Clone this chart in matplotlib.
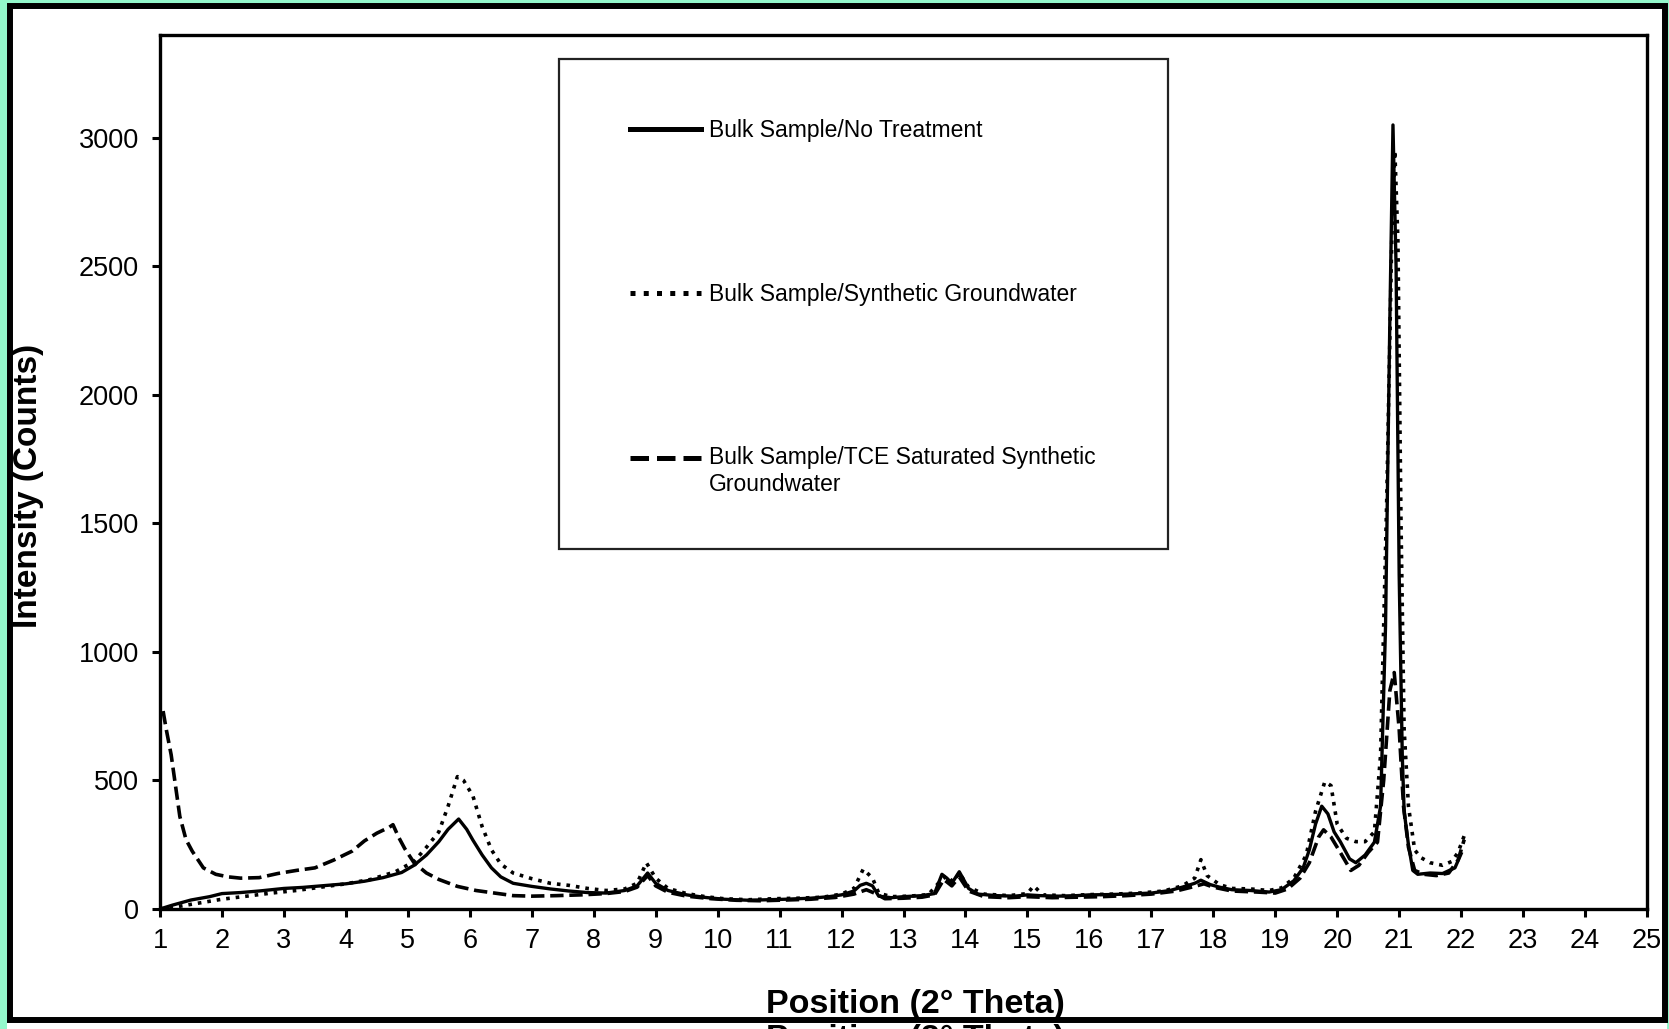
import matplotlib
matplotlib.use("Agg")
import matplotlib.pyplot as plt
from matplotlib.patches import Rectangle

plt.rcParams['font.family'] = ['Liberation Sans', 'DejaVu Sans']

# XRD scans, position in degrees 2-theta, intensity in counts
x_none = [1.0, 1.2, 1.5, 1.8, 2.0, 2.3, 2.6, 3.0, 3.3, 3.6, 4.0, 4.3, 4.6, 4.9, 5.1,
          5.3, 5.5, 5.65, 5.82, 5.95, 6.05, 6.2, 6.35, 6.5, 6.7, 7.0, 7.3, 7.6, 7.9,
          8.2, 8.5, 8.7, 8.87, 9.0, 9.2, 9.5, 9.8, 10.1, 10.5, 10.8, 11.1, 11.5, 11.8,
          12.0, 12.2, 12.3, 12.4, 12.5, 12.6, 12.8, 13.0, 13.3, 13.5, 13.62, 13.7,
          13.78, 13.9, 14.05, 14.2, 14.5, 14.8, 15.0, 15.2, 15.5, 15.8, 16.0, 16.3,
          16.6, 17.0, 17.3, 17.5, 17.7, 17.8, 17.95, 18.1, 18.3, 18.6, 18.9, 19.1,
          19.3, 19.45, 19.55, 19.65, 19.75, 19.85, 19.95, 20.05, 20.2, 20.3, 20.45,
          20.6, 20.7, 20.78, 20.85, 20.9, 20.95, 21.0, 21.05, 21.08, 21.15, 21.22,
          21.3, 21.5, 21.7, 21.9, 22.0]
y_none = [0, 15, 35, 48, 60, 64, 70, 80, 84, 90, 98, 108, 122, 142, 170,
          210, 262, 310, 350, 310, 268, 210, 160, 125, 100, 88, 78, 70, 64,
          62, 72, 90, 140, 100, 72, 55, 45, 38, 34, 36, 38, 42, 48,
          55, 70, 92, 100, 90, 50, 44, 48, 52, 60, 135, 120,
          100, 145, 80, 58, 52, 50, 55, 52, 50, 52, 55, 56,
          58, 62, 72, 85, 100, 112, 95, 85, 75, 72, 66, 75,
          110, 160, 230, 330, 400, 370, 300, 262, 195, 180, 210,
          260, 400, 1100, 2300, 3050, 2500, 1300, 600, 380, 250, 150,
          135, 140, 138, 160, 215]

x_gw = [1.0, 1.3, 1.6, 2.0, 2.4, 2.8, 3.2, 3.6, 4.0, 4.4, 4.8, 5.1, 5.3, 5.5, 5.65,
        5.8, 5.9, 6.05, 6.2, 6.35, 6.5, 6.7, 7.0, 7.3, 7.6, 7.9, 8.2, 8.5, 8.7, 8.85,
        9.0, 9.2, 9.5, 9.8, 10.1, 10.5, 10.9, 11.3, 11.7, 12.0, 12.2, 12.35, 12.5,
        12.6, 12.8, 13.1, 13.4, 13.6, 13.7, 13.8, 13.9, 14.05, 14.3, 14.7, 15.0,
        15.1, 15.25, 15.6, 16.0, 16.4, 16.8, 17.2, 17.5, 17.7, 17.8, 17.9, 18.1,
        18.3, 18.6, 18.9, 19.1, 19.3, 19.5, 19.65, 19.8, 19.9, 20.0, 20.15, 20.3,
        20.45, 20.6, 20.7, 20.8, 20.88, 20.93, 20.98, 21.03, 21.08, 21.15, 21.25,
        21.35, 21.5, 21.7, 21.85, 21.95, 22.05]
y_gw = [0, 10, 22, 38, 50, 62, 72, 85, 98, 115, 145, 185, 240, 300, 400,
        515, 500, 440, 320, 230, 175, 140, 118, 100, 92, 80, 72, 78, 100, 180,
        120, 80, 60, 48, 40, 36, 40, 42, 46, 58, 80, 155, 120,
        62, 48, 50, 56, 110, 130, 105, 140, 85, 58, 52, 60,
        90, 55, 52, 56, 58, 62, 70, 90, 120, 192, 130, 95,
        80, 78, 72, 82, 120, 210, 380, 495, 480, 330, 275, 262,
        262, 300, 600, 1600, 2600, 2950, 2600, 1500, 700, 400, 230,
        200, 180, 170, 185, 220, 285]

x_tce = [1.05, 1.1, 1.18, 1.25, 1.32, 1.42, 1.52, 1.7, 1.9, 2.1, 2.3, 2.6, 2.9, 3.2,
         3.5, 3.8, 4.1, 4.3, 4.5, 4.7, 4.76, 4.85, 4.95, 5.1, 5.3, 5.5, 5.8, 6.1, 6.4,
         6.7, 7.0, 7.4, 7.8, 8.2, 8.5, 8.7, 8.87, 9.0, 9.2, 9.5, 9.9, 10.3, 10.7,
         11.1, 11.5, 11.9, 12.2, 12.4, 12.55, 12.7, 13.0, 13.3, 13.5, 13.65, 13.78,
         13.9, 14.05, 14.3, 14.7, 15.0, 15.4, 15.8, 16.2, 16.6, 17.0, 17.4, 17.7,
         17.85, 18.0, 18.3, 18.7, 19.0, 19.2, 19.4, 19.55, 19.7, 19.78, 19.9, 20.05,
         20.22, 20.35, 20.5, 20.65, 20.75, 20.85, 20.92, 21.0, 21.07, 21.15, 21.25,
         21.4, 21.6, 21.8, 21.95, 22.05]
y_tce = [770, 700, 600, 480, 360, 270, 225, 160, 135, 125, 120, 122, 138, 150,
         160, 190, 225, 265, 295, 318, 328, 280, 235, 180, 140, 115, 88, 72, 62,
         52, 50, 52, 55, 60, 68, 85, 130, 90, 65, 50, 40, 34, 32,
         35, 38, 45, 58, 75, 60, 40, 42, 46, 55, 115, 90,
         125, 70, 48, 44, 48, 44, 46, 48, 52, 58, 70, 88,
         98, 85, 70, 66, 62, 78, 120, 180, 280, 308, 280, 220,
         150, 170, 220, 260, 500, 850, 920, 700, 400, 240, 150,
         135, 130, 140, 190, 270]

labels = ["Bulk Sample/No Treatment",
          "Bulk Sample/Synthetic Groundwater",
          "Bulk Sample/TCE Saturated Synthetic\nGroundwater"]

W, H = 1669, 1029
fig = plt.figure(figsize=(W / 100, H / 100), dpi=100, facecolor="#93f7cb")

# white page with a heavy black frame
fig.patches.append(Rectangle((7 / W, 0), 1660 / W, 1 - 3 / H, transform=fig.transFigure,
                             facecolor="white", edgecolor="none", zorder=-5))
fig.patches.append(Rectangle((10 / W, (H - 1020) / H), 1654.5 / W, 1014 / H,
                             transform=fig.transFigure, facecolor="none",
                             edgecolor="black", lw=4.3, zorder=10))

ax = fig.add_axes([160 / W, (H - 909) / H, 1487 / W, 874 / H])
ax.plot(x_none, y_none, color="black", ls="-", lw=2.4, label=labels[0])
ax.plot(x_gw, y_gw, color="black", ls=":", lw=2.6, label=labels[1])
ax.plot(x_tce, y_tce, color="black", ls="--", lw=2.6, label=labels[2])

ax.set_xlim(1, 25)
ax.set_ylim(0, 3400)
ax.set_xticks(range(1, 26))
ax.set_yticks(range(0, 3001, 500))
for s in ax.spines.values():
    s.set_linewidth(2.4)
ax.tick_params(axis="both", direction="out", length=6, width=2.2, labelsize=19.5)
ax.tick_params(axis="x", pad=8)
ax.tick_params(axis="y", pad=9)

ax.set_xlabel("Position (2° Theta)", fontsize=24.5, fontweight="bold")
ax.xaxis.set_label_coords(0.5077, -0.092)
ax.set_ylabel("Intensity (Counts)", fontsize=24, fontweight="bold")
ax.yaxis.set_label_coords(-0.078, 0.484)

# the same axis title printed again just under the frame
fig.text(915 / W, (H - 1048) / H, "Position (2° Theta)", fontsize=24.5,
         fontweight="bold", ha="center", va="baseline", zorder=5)

# legend box
ax.add_patch(Rectangle(((559 - 160) / 1487, (909 - 549) / 874), 609 / 1487, 490 / 874,
                       transform=ax.transAxes, facecolor="white", edgecolor="#222222",
                       lw=1.6, zorder=4))
leg = ax.legend(loc="upper left", bbox_to_anchor=((630 - 160) / 1487, (909 - 119.5) / 874),
                frameon=False, borderpad=0, borderaxespad=0, fontsize=16.5,
                handlelength=3.1, handletextpad=0.35, labelspacing=6.13)
leg.set_zorder(6)
for h in leg.legend_handles:
    h.set_linewidth(3.6)
# put the dashed key level with the first line of its two-line label
y3 = leg.legend_handles[2].get_ydata()
leg.legend_handles[2].set_ydata([v + 9.9 for v in y3])

fig.savefig("out.png", dpi=100, facecolor=fig.get_facecolor())
